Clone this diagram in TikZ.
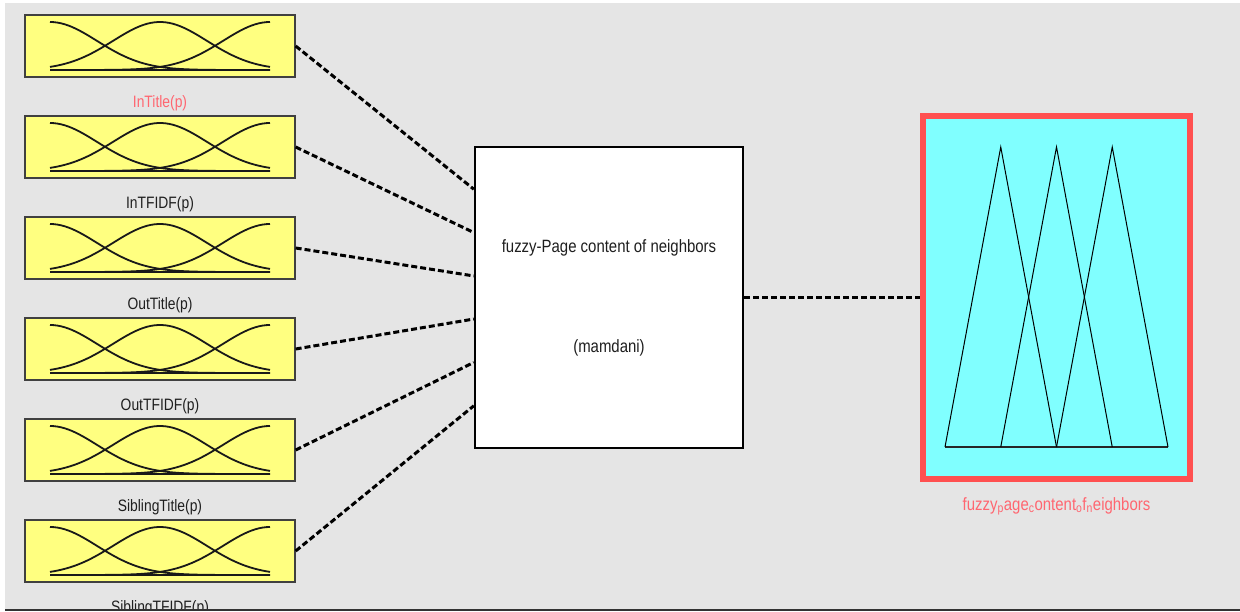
\documentclass[tikz,border=0pt]{standalone}
\usepackage{fontspec}
\setmainfont{Liberation Sans}[FakeStretch=0.84]
\usepackage{tikz}
\usetikzlibrary{calc,positioning}
\definecolor{panelgray}{HTML}{E5E5E5}
\definecolor{mfyellow}{HTML}{FFFF80}
\definecolor{mfcyan}{HTML}{80FFFF}
\definecolor{selred}{HTML}{FF5050}
\definecolor{sellabel}{HTML}{FF6670}
\definecolor{boxedge}{HTML}{404040}
% three gaussian MFs inside an input box
\newcommand{\gaussmf}[1]{%
  \draw[mfline, shift={(#1.center)}] (-110,24) -- (110,24);
  \draw[mfline, shift={(#1.center)}, domain=-110:110, samples=60, smooth]
    plot (\x, {24-48*exp(-0.5*((\x+110)/47)^2)});
  \draw[mfline, shift={(#1.center)}, domain=-110:110, samples=60, smooth]
    plot (\x, {24-48*exp(-0.5*((\x)/47)^2)});
  \draw[mfline, shift={(#1.center)}, domain=-110:110, samples=60, smooth]
    plot (\x, {24-48*exp(-0.5*((\x-110)/47)^2)});
}

\begin{document}
\begin{tikzpicture}[x=1pt, y=-1pt, font=\fontsize{16.5}{19}\selectfont,
  inbox/.style={draw=boxedge, line width=1.3pt, fill=mfyellow, minimum width=270pt, minimum height=62pt, inner sep=0pt},
  lbl/.style={inner sep=0pt, text=black!88},
  biglbl/.style={lbl, font=\fontsize{17.8}{21}\selectfont},
  mfline/.style={line width=1.8pt, black!90},
  link/.style={line width=3pt, dash pattern=on 6pt off 3pt}]
  \useasboundingbox (0,0) rectangle (1240,612);
  \clip (0,0) rectangle (1240,610);
  \fill[panelgray] (5,3) rectangle (1240,610);

  % inputs
  \node[inbox] (inTitle) at (160,46) {};
  \node[inbox] (inTfidf) at (160,147) {};
  \node[inbox] (outTitle) at (160,248) {};
  \node[inbox] (outTfidf) at (160,349) {};
  \node[inbox] (sibTitle) at (160,450) {};
  \node[inbox] (sibTfidf) at (160,551) {};
  \gaussmf{inTitle}
  \gaussmf{inTfidf}
  \gaussmf{outTitle}
  \gaussmf{outTfidf}
  \gaussmf{sibTitle}
  \gaussmf{sibTfidf}
  \node[lbl, text=sellabel, below=18pt of inTitle] (inTitleLbl) {InTitle(p)};
  \node[lbl, below=18pt of inTfidf] (inTfidfLbl) {InTFIDF(p)};
  \node[lbl, below=18pt of outTitle] (outTitleLbl) {OutTitle(p)};
  \node[lbl, below=18pt of outTfidf] (outTfidfLbl) {OutTFIDF(p)};
  \node[lbl, below=18pt of sibTitle] (sibTitleLbl) {SiblingTitle(p)};
  \node[lbl, below=18pt of sibTfidf] (sibTfidfLbl) {SiblingTFIDF(p)};

  % inference system
  \node[draw=black, line width=2.4pt, fill=white, minimum width=268pt, minimum height=301pt] (fis) at (609,297.5) {};
  \node[biglbl] (fisName) at ($(fis.center)+(0,-50)$) {fuzzy-Page content of neighbors};
  \node[biglbl] (fisType) at ($(fis.center)+(0,50)$) {(mamdani)};
  \coordinate (fisIn1) at ($(fis.north west)!0.143!(fis.south west)$);
  \coordinate (fisIn2) at ($(fis.north west)!0.286!(fis.south west)$);
  \coordinate (fisIn3) at ($(fis.north west)!0.429!(fis.south west)$);
  \coordinate (fisIn4) at ($(fis.north west)!0.571!(fis.south west)$);
  \coordinate (fisIn5) at ($(fis.north west)!0.714!(fis.south west)$);
  \coordinate (fisIn6) at ($(fis.north west)!0.857!(fis.south west)$);
  \draw[link] (inTitle.east) -- (fisIn1);
  \draw[link] (inTfidf.east) -- (fisIn2);
  \draw[link] (outTitle.east) -- (fisIn3);
  \draw[link] (outTfidf.east) -- (fisIn4);
  \draw[link] (sibTitle.east) -- (fisIn5);
  \draw[link] (sibTfidf.east) -- (fisIn6);

  % output
  \node[draw=selred, line width=6pt, fill=mfcyan, minimum width=267pt, minimum height=363pt] (outMf) at (1056.5,297.5) {};
  \draw[link] (fis.east) -- (outMf.west);
  \draw[line width=1.5pt, black!85] ($(outMf.center)+(-111.5,149.5)$) -- ++(223,0);
  \draw[line width=1pt] ($(outMf.center)+(-111.5,149.5)$) -- ++(55.75,-300) -- ++(55.75,300);
  \draw[line width=1pt] ($(outMf.center)+(-55.75,149.5)$) -- ++(55.75,-300) -- ++(55.75,300);
  \draw[line width=1pt] ($(outMf.center)+(0,149.5)$) -- ++(55.75,-300) -- ++(55.75,300);
  \node[biglbl, text=sellabel, below=15pt of outMf] (outMfLbl)
    {fuzzy\textsubscript{p}age\textsubscript{c}ontent\textsubscript{o}f\textsubscript{n}eighbors};

  \draw[line width=1.5pt, black!80] (5,610) -- (1240,610);
\end{tikzpicture}
\end{document}
